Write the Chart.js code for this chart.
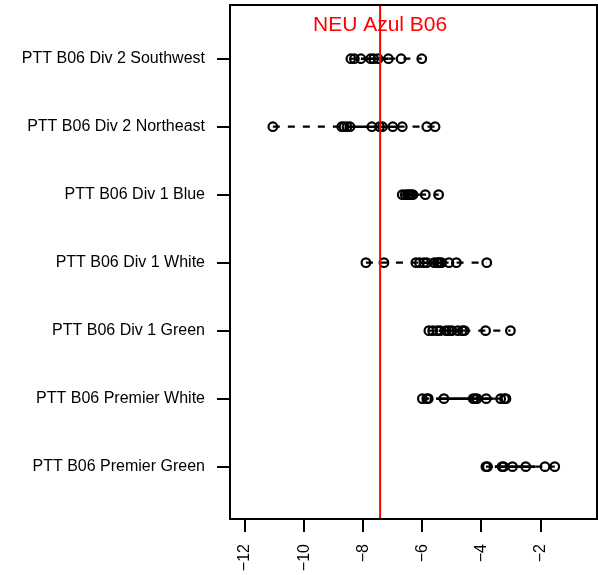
<!DOCTYPE html>
<html lang="en">
<head>
    <meta charset="UTF-8">
    <title>NEU Azul B06</title>
    <script src="https://cdn.jsdelivr.net/npm/chart.js"></script>
    <style>
        html, body { margin: 0; padding: 0; background: #fff; }
        #wrap { width: 598px; height: 575px; }
    </style>
</head>
<body>
    <div id="wrap"><canvas id="chart"></canvas></div>
    <script>
        // rows from bottom (y = 1) to top (y = 7)
        const categories = [
            'PTT B06 Premier Green',
            'PTT B06 Premier White',
            'PTT B06 Div 1 Green',
            'PTT B06 Div 1 White',
            'PTT B06 Div 1 Blue',
            'PTT B06 Div 2 Northeast',
            'PTT B06 Div 2 Southwest'
        ];
        const premierGreen = [-3.85, -3.8, -3.3, -3.25, -2.95, -2.5, -1.85, -1.52];
        const premierWhite = [-6.0, -5.85, -5.8, -5.27, -4.28, -4.22, -4.15, -3.84, -3.35, -3.22, -3.17];
        const div1Green = [-5.78, -5.65, -5.5, -5.4, -5.2, -5.1, -5.0, -4.8, -4.65, -4.58, -3.86, -3.02];
        const div1White = [-7.91, -7.3, -6.22, -6.1, -5.95, -5.85, -5.6, -5.5, -5.45, -5.4, -5.35, -5.1, -4.85, -3.82];
        const div1Blue = [-6.68, -6.58, -6.5, -6.44, -6.38, -6.32, -5.9, -5.45];
        const div2Northeast = [-11.06, -8.73, -8.65, -8.55, -8.45, -7.71, -7.45, -7.35, -7.0, -6.68, -5.85, -5.57];
        const div2Southwest = [-8.42, -8.3, -8.08, -7.75, -7.65, -7.5, -7.15, -6.72, -6.02];
        const rows = [premierGreen, premierWhite, div1Green, div1White, div1Blue, div2Northeast, div2Southwest];

        const xTicks = [-12, -10, -8, -6, -4, -2];
        const refValue = -7.43;
        const refLabel = 'NEU Azul B06';

        const xMin = -12.51, xMax = -0.09;
        const yMin = 0.23, yMax = 7.79;

        // R style hinges
        function fivenum(arr) {
            const x = arr.slice().sort((a, b) => a - b);
            const n = x.length;
            const n4 = Math.floor((n + 3) / 2) / 2;
            const d = [1, n4, (n + 1) / 2, n + 1 - n4, n];
            return d.map(k => 0.5 * (x[Math.floor(k) - 1] + x[Math.ceil(k) - 1]));
        }

        const datasets = [];
        datasets.push({
            data: [{ x: refValue, y: yMin }, { x: refValue, y: yMax }],
            showLine: true,
            borderColor: '#ff0000',
            borderWidth: 2,
            pointRadius: 0
        });
        rows.forEach((vals, i) => {
            datasets.push({
                data: vals.map(v => ({ x: v, y: i + 1 })),
                pointStyle: 'circle',
                pointRadius: 4.3,
                borderWidth: 2.2,
                borderColor: '#000',
                backgroundColor: 'rgba(0,0,0,0)'
            });
        });
        rows.forEach((vals, i) => {
            const f = fivenum(vals);
            const y = i + 1;
            const seg = (a, b, dash, w) => ({
                data: [{ x: a, y: y }, { x: b, y: y }],
                showLine: true,
                borderColor: '#000',
                borderWidth: w,
                borderDash: dash,
                pointRadius: 0
            });
            datasets.push(seg(f[0], f[1], [7, 8], 2.2));
            datasets.push(seg(f[1], f[3], [], 2.6));
            datasets.push(seg(f[3], f[4], [7, 8], 2.2));
        });

        const frame = {
            id: 'frame',
            afterDraw(chart) {
                const { ctx, chartArea: a, scales } = chart;
                ctx.save();
                ctx.strokeStyle = '#000';
                ctx.lineWidth = 2;
                ctx.strokeRect(a.left, a.top, a.right - a.left, a.bottom - a.top);
                ctx.fillStyle = '#ff0000';
                ctx.font = '21px "Liberation Sans", Arial, sans-serif';
                ctx.textAlign = 'center';
                ctx.textBaseline = 'middle';
                ctx.fillText(refLabel, scales.x.getPixelForValue(refValue), scales.y.getPixelForValue(7.5));
                ctx.restore();
            }
        };

        const font = { family: '"Liberation Sans", Arial, sans-serif', size: 16 };

        function noPad(s) {
            s.paddingTop = 0;
            s.paddingBottom = 0;
            s.paddingLeft = 0;
            s.paddingRight = 0;
        }

        new Chart(document.getElementById('chart'), {
            type: 'scatter',
            data: { datasets: datasets },
            plugins: [frame],
            options: {
                responsive: true,
                maintainAspectRatio: false,
                animation: false,
                layout: { autoPadding: false, padding: { top: 5, right: 1, left: 0, bottom: 0 } },
                plugins: {
                    legend: { display: false },
                    tooltip: { enabled: false }
                },
                scales: {
                    x: {
                        type: 'linear',
                        min: xMin,
                        max: xMax,
                        afterBuildTicks: s => { s.ticks = xTicks.map(v => ({ value: v })); },
                        afterFit: s => { s.height = 56; noPad(s); },
                        grid: { drawOnChartArea: false, drawTicks: true, tickLength: 13, color: '#000', lineWidth: 2 },
                        border: { display: false },
                        ticks: {
                            color: '#000',
                            font: font,
                            padding: 12,
                            minRotation: 90,
                            maxRotation: 90,
                            callback: v => String(v).replace('-', '\u2212')
                        }
                    },
                    y: {
                        type: 'linear',
                        min: yMin,
                        max: yMax,
                        afterBuildTicks: s => { s.ticks = categories.map((c, i) => ({ value: i + 1 })); },
                        afterFit: s => { s.width = 230; noPad(s); },
                        grid: { drawOnChartArea: false, drawTicks: true, tickLength: 13, color: '#000', lineWidth: 2 },
                        border: { display: false },
                        ticks: {
                            color: '#000',
                            font: font,
                            padding: 12,
                            callback: v => categories[v - 1]
                        }
                    }
                }
            }
        });
    </script>
</body>
</html>
